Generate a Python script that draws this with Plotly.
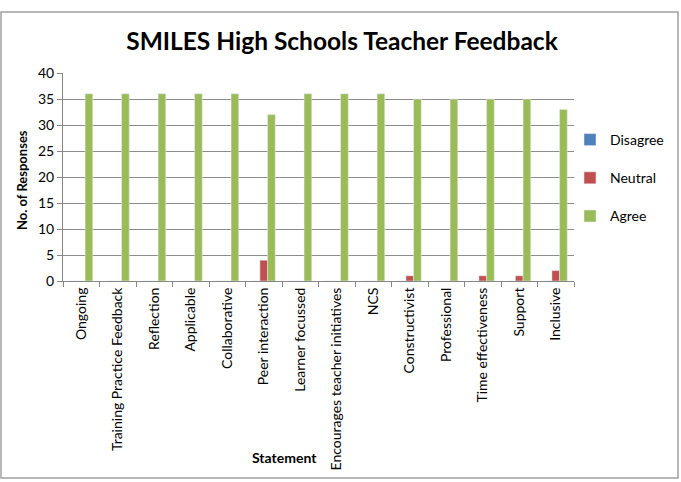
import plotly.graph_objects as go

categories = ["Ongoing", "Training Practice Feedback", "Reflection", "Applicable",
              "Collaborative", "Peer interaction", "Learner focussed",
              "Encourages teacher initiatives", "NCS", "Constructivist",
              "Professional", "Time effectiveness", "Support", "Inclusive"]
disagree = [0, 0, 0, 0, 0, 0, 0, 0, 0, 0, 0, 0, 0, 0]
neutral = [0, 0, 0, 0, 0, 4, 0, 0, 0, 1, 0, 1, 1, 2]
agree = [36, 36, 36, 36, 36, 32, 36, 36, 36, 35, 35, 35, 35, 33]
y_ticks = [0, 5, 10, 15, 20, 25, 30, 35, 40]

W, H = 681, 482
L, R, T, B = 63, 681 - 574, 73, 201
pw, ph = W - L - R, H - T - B

def px(x):
    return (x - L) / pw

def py(y):
    return 1 - (y - T) / ph

font = "Lato, 'Open Sans', sans-serif"

fig = go.Figure()
fig.add_trace(go.Bar(name="Disagree", x=categories, y=disagree, marker_color="#4F81BD", legendgroup="d"))
fig.add_trace(go.Bar(name="Neutral", x=categories, y=neutral, marker_color="#C0504D", legendgroup="n"))
fig.add_trace(go.Bar(name="Agree", x=categories, y=agree, marker_color="#9BBB59", legendgroup="a"))

fig.update_layout(
    width=W, height=H,
    margin=dict(l=L, r=R, t=T, b=B),
    paper_bgcolor="white", plot_bgcolor="white",
    barmode="group", bargap=0.37, bargroupgap=0,
    font=dict(family=font, size=14, color="#000000"),
    title=dict(text="<b>SMILES High Schools Teacher Feedback</b>",
               x=342 / W, xref="container", xanchor="center",
               y=1 - 41 / H, yanchor="middle",
               font=dict(size=24.5, family=font)),
    legend=dict(x=px(570), y=py(124), xanchor="left", yanchor="top",
                font=dict(size=14), tracegroupgap=17,
                traceorder="grouped", bgcolor="rgba(0,0,0,0)"),
    showlegend=True,
)
fig.update_xaxes(
    type="category", showline=True, linecolor="#868686", linewidth=1,
    ticks="outside", tickson="boundaries", ticklen=5, tickcolor="#868686",
    tickangle=-90, tickfont=dict(size=14), showgrid=False,
)
fig.update_yaxes(
    range=[0, 40], tickvals=y_ticks, showline=True, linecolor="#868686",
    linewidth=1, ticks="outside", ticklen=5, tickcolor="#868686",
    showgrid=True, gridcolor="#8C8C8C", gridwidth=1,
    tickfont=dict(size=14), zeroline=False,
)
fig.add_annotation(text="<b>No. of Responses</b>", xref="paper", yref="paper",
                   x=px(22), y=py(180), showarrow=False, textangle=-90,
                   font=dict(size=13), xanchor="center", yanchor="middle")
fig.add_annotation(text="<b>Statement</b>", xref="paper", yref="paper",
                   x=px(284), y=py(457), showarrow=False,
                   font=dict(size=14), xanchor="center", yanchor="middle")
# outer chart border
fig.add_shape(type="rect", xref="paper", yref="paper",
              x0=px(1), x1=px(678), y0=py(478), y1=py(12),
              line=dict(color="#A0A0A0", width=1.5), fillcolor="rgba(0,0,0,0)",
              layer="below")
fig.write_html("out.html")
